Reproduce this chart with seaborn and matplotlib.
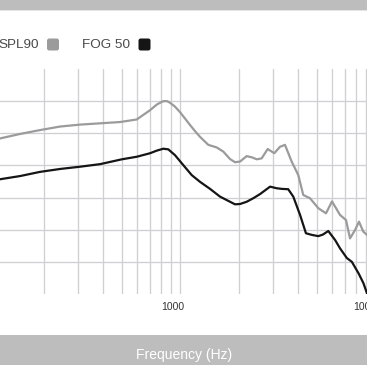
import numpy as np
import pandas as pd
import matplotlib
matplotlib.use("Agg")
import matplotlib.pyplot as plt
import matplotlib.transforms as mtransforms
from matplotlib.patches import Rectangle, FancyBboxPatch
from matplotlib.ticker import FixedLocator, NullFormatter, FixedFormatter
import seaborn as sns

# ---------------- data ----------------
spl90_freq = [110, 119, 151, 191, 242, 306, 388, 491, 598, 700, 760, 818, 855, 886, 939,
              996, 1057, 1121, 1189, 1262, 1392, 1537, 1662, 1798, 1908, 2024, 2190, 2333,
              2467, 2614, 2806, 3034, 3245, 3442, 3725, 4027, 4272, 4624, 5101, 5587, 5997,
              6594, 7077, 7419, 7871, 8249, 8678, 9066, 9500]
spl90_db = [48.0, 48.4, 49.8, 51.0, 52.1, 52.7, 53.1, 53.5, 54.3, 57.2, 59.0, 60.0, 60.0, 59.5, 58.3,
            56.6, 54.6, 52.6, 50.7, 48.9, 46.4, 45.6, 44.3, 42.0, 41.0, 41.2, 42.9, 42.5,
            41.9, 42.2, 45.1, 43.8, 45.8, 46.4, 41.2, 37.0, 30.8, 29.8, 26.7, 25.1, 28.8,
            24.6, 23.0, 17.3, 19.9, 22.5, 19.4, 18.4, 17.0]

fog50_freq = [110, 119, 151, 191, 242, 306, 388, 501, 598, 700, 757, 818, 868, 939, 1036,
              1144, 1262, 1421, 1598, 1908, 2024, 2190, 2368, 2566, 2887, 3120, 3320, 3576,
              3796, 4113, 4409, 4716, 5101, 5389, 5741, 6220, 6594, 7144, 7583, 8211, 8688,
              9066, 9500]
fog50_db = [35.4, 35.7, 36.7, 38.0, 38.9, 39.6, 40.4, 41.9, 42.7, 43.8, 44.6, 45.2, 45.0, 43.2, 40.1,
            37.0, 34.9, 32.7, 30.3, 27.9, 28.0, 28.7, 29.8, 31.1, 33.4, 32.9, 32.7, 32.6,
            30.3, 24.6, 18.9, 18.4, 18.0, 18.5, 19.6, 16.8, 14.2, 11.2, 10.0, 6.4, 3.4,
            0.2, -2.0]

series_names = ["SPL90", "FOG 50"]
series_colors = ["#9b9b9b", "#151515"]
x_major_ticks = [100, 1000, 10000]
x_major_labels = ["100", "1000", "10000"]
x_minor_ticks = [200, 300, 400, 500, 600, 700, 800, 900,
                 2000, 3000, 4000, 5000, 6000, 7000, 8000, 9000]
y_grid_ticks = [10, 20, 30, 40, 50, 60]
x_label = "Frequency (Hz)"

# ---------------- figure ----------------
sns.set_theme(style="white")
plt.rcParams["font.family"] = ["Liberation Sans", "DejaVu Sans"]

W, H = 367, 365
fig = plt.figure(figsize=(W / 100, H / 100), dpi=100)

def fy(py):
    return 1 - py / H

# background panels
bg = fig.add_axes([0, 0, 1, 1], zorder=-10)
bg.set_xlim(0, 1)
bg.set_ylim(0, 1)
bg.axis("off")
bg.add_patch(Rectangle((0, 0), 1, 1, color="white", lw=0))
bg.add_patch(Rectangle((0, fy(10)), 1, 10 / H, color="#bdbdbd", lw=0))
bg.add_patch(Rectangle((0, fy(11)), 1, 1 / H, color="#e4e4e4", lw=0))
top_c = np.array([255, 255, 255]) / 255
bot_c = np.array([224, 225, 229]) / 255
t = np.linspace(0, 1, 256)[:, None]
grad = (top_c[None, :] * (1 - t) + bot_c[None, :] * t)[:, None, :]
bg.imshow(grad, extent=[0, 1, fy(319), fy(11)], aspect="auto", origin="upper",
          interpolation="bilinear")
bg.add_patch(Rectangle((0, 0), 1, fy(335), color="#bdbdbd", lw=0))
bg.text(184 / W, fy(355), x_label, color="white", fontsize=10,
        ha="center", va="center")

# legend (label first, then swatch)
leg_y = fy(44.5)
bg.text(39 / W, leg_y, series_names[0], color="#4a4a4a", fontsize=9.7,
        ha="right", va="center")
bg.text(82 / W, leg_y, series_names[1], color="#4a4a4a", fontsize=9.7,
        ha="left", va="center")
for x0, c in [(47, series_colors[0]), (138.5, series_colors[1])]:
    bg.add_patch(FancyBboxPatch((x0 / W, fy(50.5)), 12 / W, 12 / H,
                                boxstyle="round,pad=0,rounding_size=0.006",
                                color=c, lw=0))

# main axes
ax_top, ax_bot = 69, 294
ax = fig.add_axes([0, fy(ax_bot), 1, (ax_bot - ax_top) / H])
ax.set_facecolor("none")

sns.lineplot(x=spl90_freq, y=spl90_db, ax=ax, color=series_colors[0], lw=1.6,
             estimator=None, zorder=3)
sns.lineplot(x=fog50_freq, y=fog50_db, ax=ax, color=series_colors[1], lw=1.6,
             estimator=None, zorder=4)

ax.set_xscale("log")
x_left = 10 ** (3 - 180.3 / 195)
x_right = 10 ** (3 + (W - 180.3) / 195)
ax.set_xlim(x_left, x_right)
ax.set_ylim(0, 70)

ax.xaxis.set_major_locator(FixedLocator(x_major_ticks))
ax.xaxis.set_major_formatter(FixedFormatter(x_major_labels))
ax.xaxis.set_minor_locator(FixedLocator(x_minor_ticks))
ax.xaxis.set_minor_formatter(NullFormatter())
ax.set_yticks(y_grid_ticks)
ax.set_yticklabels([])

grid_kw = dict(color="#d0d0d4", lw=0.95)
ax.grid(True, which="both", axis="x", **grid_kw)
ax.grid(True, which="major", axis="y", **grid_kw)
ax.set_axisbelow(True)

ax.tick_params(axis="x", which="major", length=2, width=0.95, color="#c8c8cc",
               direction="out", pad=4, labelsize=7.5, labelcolor="#333333")
ax.tick_params(axis="x", which="minor", length=0)
ax.tick_params(axis="y", length=0)
for s in ax.spines.values():
    s.set_visible(False)
ax.set_xlabel("")
ax.set_ylabel("")

offset = mtransforms.ScaledTranslation(-8 / 100, 0, fig.dpi_scale_trans)
for lbl in ax.get_xticklabels():
    lbl.set_transform(lbl.get_transform() + offset)

# the 10000 label sits just past the visible range (cut off, as in the reference)
fig.canvas.draw()
lbl1000 = [l for l in ax.get_xticklabels() if l.get_text() == x_major_labels[1]][0]
ax.text(x_major_ticks[2], lbl1000.get_position()[1], x_major_labels[2],
        transform=lbl1000.get_transform(), fontsize=7.5, color="#333333",
        ha=lbl1000.get_ha(), va=lbl1000.get_va(), clip_on=False)

fig.savefig("out.png", dpi=100)
